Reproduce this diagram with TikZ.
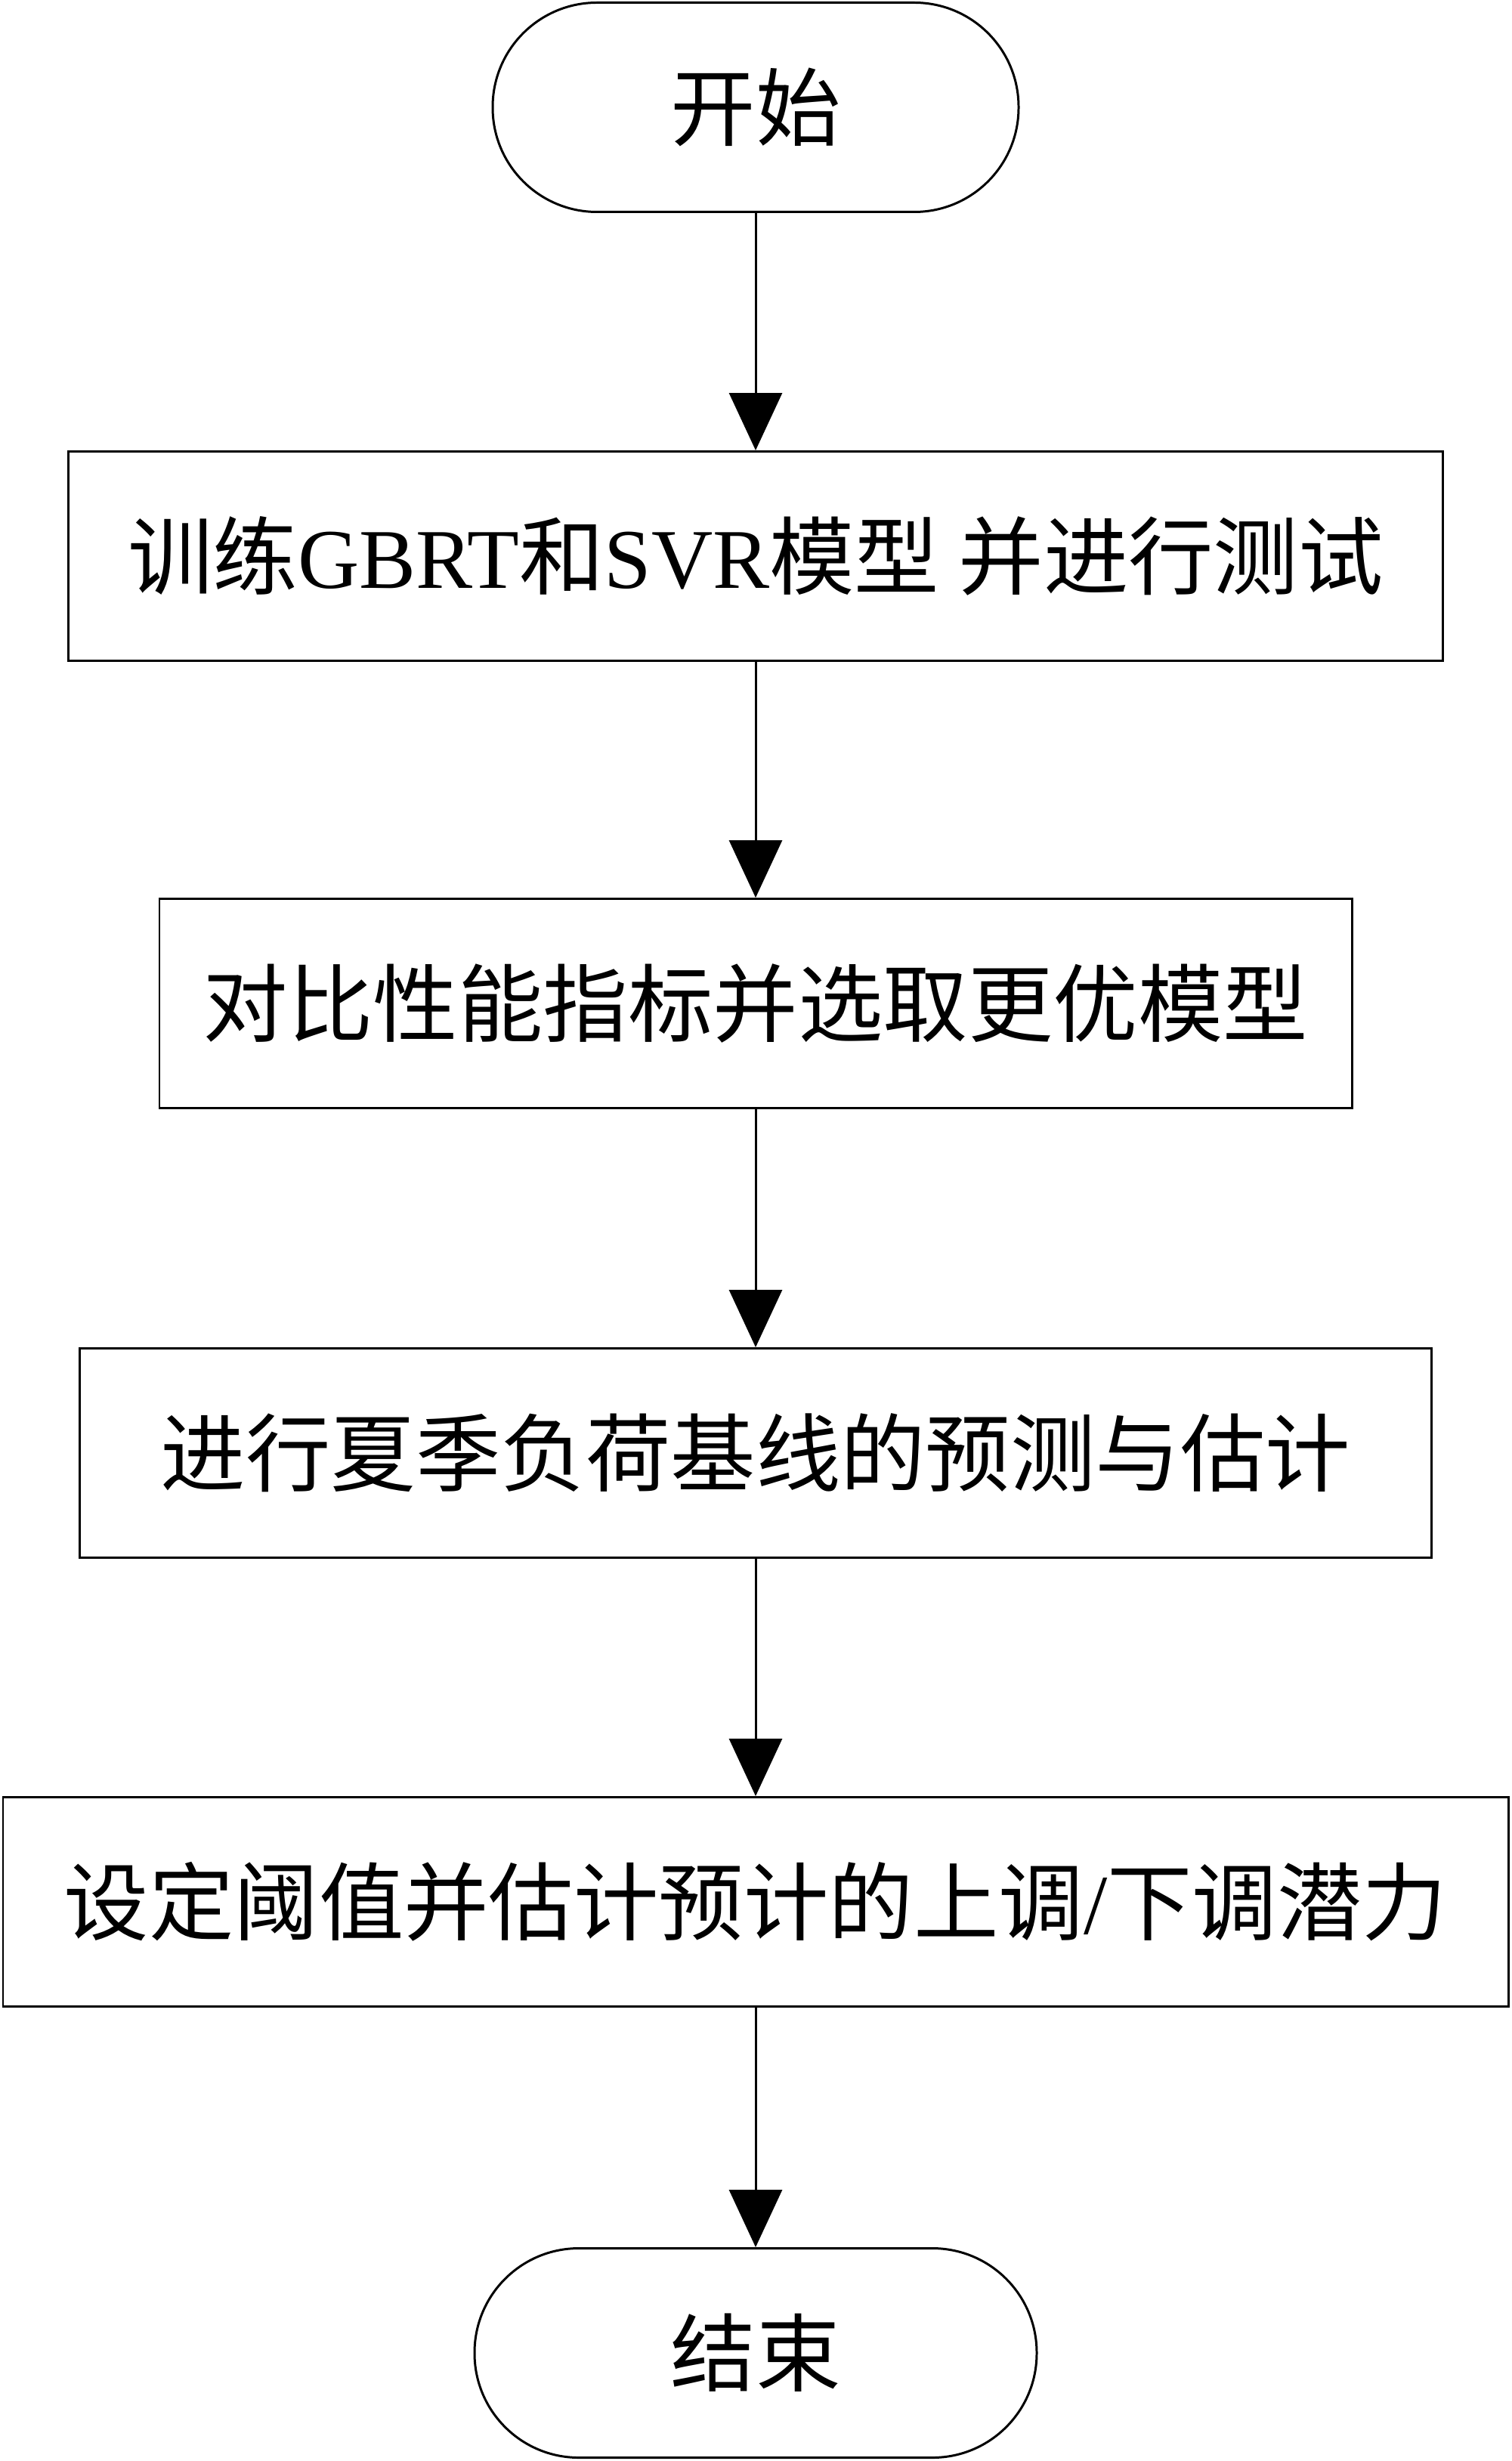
\documentclass[tikz,border=0pt]{standalone}
\usepackage{fontspec}
\setmainfont{Liberation Serif}
\newfontfamily\cjk{Noto Sans CJK SC}
\usetikzlibrary{arrows.meta,
                positioning
            }

\begin{document}
\begin{tikzpicture}[
            stepbox/.style={draw, line width=0.85pt, minimum height=2.77cm, inner sep=0pt,
                            font=\fontsize{32}{36}\selectfont},
            terminal/.style={stepbox, rounded corners=1.38cm},
            >={Triangle[length=0.76cm, width=0.7cm]}
        ]
            \useasboundingbox (0, 0) rectangle (20, -32.57);
            \node[terminal, minimum width=6.96cm] (start) at (10, -1.42) {\cjk 开始};
            \node[stepbox, minimum width=18.19cm] (train) at (10, -7.36) {{\cjk 训练}GBRT{\cjk 和}SVR{\cjk 模型 并进行测试}};
            \node[stepbox, minimum width=15.78cm] (compare) at (10, -13.28) {\cjk 对比性能指标并选取更优模型};
            \node[stepbox, minimum width=17.89cm] (predict) at (10, -19.23) {\cjk 进行夏季负荷基线的预测与估计};
            \node[stepbox, minimum width=19.92cm] (potential) at (10, -25.17) {{\cjk 设定阈值并估计预计的上调}/{\cjk 下调潜力}};
            \node[terminal, minimum width=7.44cm] (finish) at (10, -31.14) {\cjk 结束};
            \draw[->, line width=0.85pt] (start.south) -- (train.north);
            \draw[->, line width=0.85pt] (train.south) -- (compare.north);
            \draw[->, line width=0.85pt] (compare.south) -- (predict.north);
            \draw[->, line width=0.85pt] (predict.south) -- (potential.north);
            \draw[->, line width=0.85pt] (potential.south) -- (finish.north);
        \end{tikzpicture}
\end{document}
